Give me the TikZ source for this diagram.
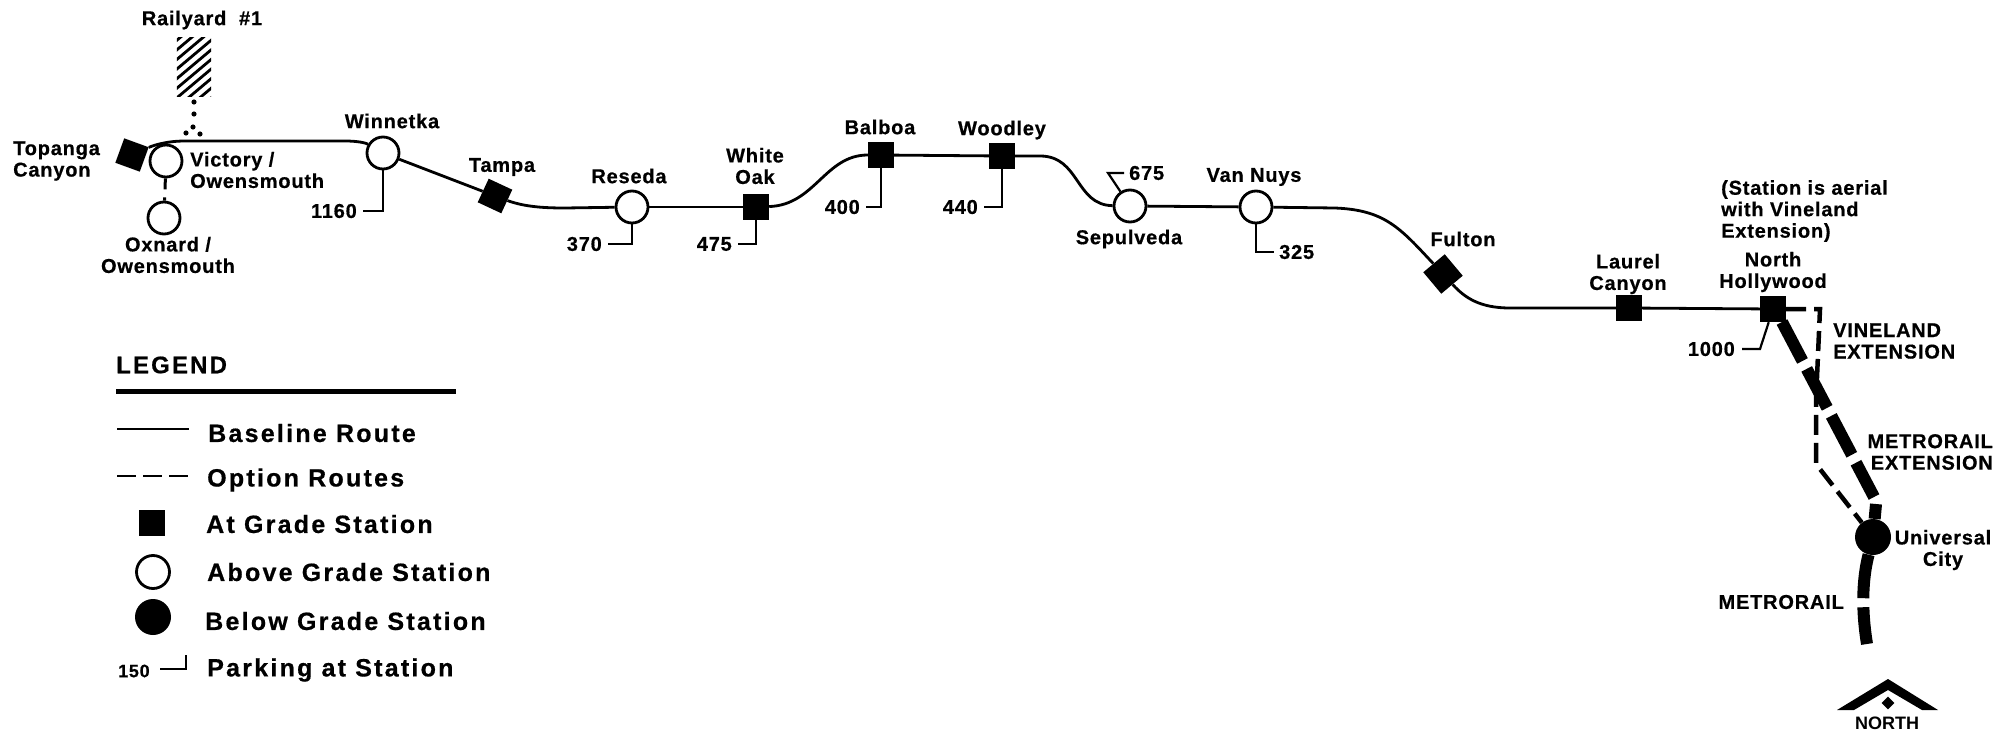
\documentclass[tikz,border=0pt]{standalone}
\usepackage{fontspec}
\setmainfont{Liberation Sans}[BoldFont=* Bold]
\newfontfamily\lblfont{Liberation Sans Bold}[LetterSpace=4,FakeBold=0.6]
\newfontfamily\legfont{Liberation Sans Bold}[LetterSpace=9,FakeBold=0.6]
\begin{document}
\begin{tikzpicture}[x=1pt,y=-1pt,
  lbl/.style={font=\lblfont\fontsize{20}{21.5}\selectfont,inner sep=0pt,align=center},
  lbll/.style={lbl,align=left},
  leg/.style={font=\legfont\fontsize{25}{27}\selectfont,inner sep=0pt,anchor=west},
  grade/.style={fill=black,draw=none,minimum size=26pt,inner sep=0pt,rectangle},
  above/.style={circle,draw=black,line width=2.8pt,fill=white,minimum size=32pt,inner sep=0pt},
  below/.style={circle,fill=black,minimum size=36pt,inner sep=0pt},
  route/.style={line width=2.8pt},
  park/.style={line width=2.2pt},
  option/.style={line width=4.5pt,dash pattern=on 20pt off 8pt},
  metro/.style={line width=12pt,dash pattern=on 44pt off 9pt},
  pt/.style={inner sep=0pt,minimum size=0pt}]
\useasboundingbox (0,0) rectangle (2005,733);
% stations
\node[grade,rotate=-20] (topanga) at (132,155) {};
\node[above] (victory) at (166,161) {};
\node[above] (oxnard) at (164,218) {};
\node[above] (winnetka) at (383,153) {};
\node[grade,rotate=-25] (tampa) at (495,196) {};
\node[above] (reseda) at (632,207) {};
\node[grade] (whiteoak) at (756,207) {};
\node[grade] (balboa) at (881,155) {};
\node[grade] (woodley) at (1002,156) {};
\node[above] (sepulveda) at (1130,206) {};
\node[above] (vannuys) at (1256,207) {};
\node[grade,rotate=-50,minimum size=28pt] (fulton) at (1443,274) {};
\node[grade] (laurel) at (1629,308) {};
\node[below] (universal) at (1873,537) {};
% option and metrorail lines
\coordinate (vcorner) at (1820,309);
\coordinate (vbend) at (1816,464);
\coordinate (mid) at (1816,400);
\coordinate (metroend) at (1867,644);
\coordinate (metrotop) at (1874,497);
\draw[option] (1786,309) -- (vcorner) -- (mid) -- (vbend) -- (universal);
\draw[metro] (1782,322) -- (metrotop);
\draw[line width=12pt] (1876,504) -- (universal);
\draw[metro] (universal) .. controls (1866,565) and (1859,595) .. (metroend);
\node[grade] (nohol) at (1773,309) {};
\draw[route] (laurel) -- (nohol);
% baseline route
\draw[route] (topanga) .. controls (152,146) and (165,141) .. (185,141) -- (345,141) .. controls (358,141) and (366,143) .. (winnetka);
\draw[route] (winnetka) -- (tampa);
\draw[route] (tampa) .. controls (525,207) and (545,208) .. (565,208) -- (reseda);
\draw[route] (reseda) -- (whiteoak);
\draw[route] (whiteoak) .. controls (815,205) and (825,155) .. (balboa);
\draw[route] (balboa) -- (woodley);
\draw[route] (woodley) -- (1040,156) .. controls (1080,156) and (1075,205) .. (sepulveda);
\draw[route] (sepulveda) -- (vannuys);
\draw[route] (vannuys) -- (1335,208) .. controls (1385,210) and (1400,228) .. (fulton);
\draw[route] (fulton) .. controls (1465,298) and (1480,308) .. (1510,308) -- (laurel);
\draw[line width=3pt,dash pattern=on 11pt off 8pt] (victory) -- (oxnard);
% railyard
\node[inner sep=0pt,minimum width=34pt,minimum height=59pt] (railyard) at (194,67) {};
\begin{scope}
\clip (railyard.north west) rectangle (railyard.south east);
\foreach \k in {0,...,11} \draw[line width=2.8pt] (170,{46+\k*9.6}) -- (220,{46+\k*9.6-42});
\end{scope}
\foreach \p in {(194,102),(194,114),(193,127),(186,133),(200,134)} \fill \p circle (2.6);
% labels
\node[lbl] (lrail) at (202,20) {Railyard\ \ \#1};
\node[lbll,anchor=west] (ltop) at (13,161) {Topanga\\Canyon};
\node[lbll,anchor=west] (lvic) at (190,170) {Victory /\\Owensmouth};
\node[lbl] (loxn) at (168,255) {Oxnard /\\Owensmouth};
\node[lbl] (lwin) at (392,121) {Winnetka};
\node[lbl] (ltam) at (502,167) {Tampa};
\node[lbl] (lres) at (629,176) {Reseda};
\node[lbl] (lwhi) at (755,166) {White\\Oak};
\node[lbl] (lbal) at (880,127) {Balboa};
\node[lbl] (lwoo) at (1002,130) {Woodley};
\node[lbl] (lsep) at (1129,239) {Sepulveda};
\node[lbl] (lvan) at (1254,177) {Van Nuys};
\node[lbl] (lful) at (1463,239) {Fulton};
\node[lbl] (llau) at (1628,274) {Laurel\\Canyon};
\node[lbl] (lnor) at (1773,272) {North\\Hollywood};
\node[lbll,anchor=west] (lsta) at (1721,211) {(Station is aerial\\with Vineland\\Extension)};
\node[lbll,anchor=west] (lvin) at (1833,341) {VINELAND\\EXTENSION};
\node[lbl,align=right,anchor=east] (lmex) at (1993,452) {METRORAIL\\EXTENSION};
\node[lbl] (luni) at (1943,550) {Universal\\City};
\node[lbl,anchor=east] (lmet) at (1844,602) {METRORAIL};
% parking
\node[lbl,anchor=east] (p1160) at (357,211) {1160};
\node[lbl,anchor=east] (p370) at (602,244) {370};
\node[lbl,anchor=east] (p475) at (732,244) {475};
\node[lbl,anchor=east] (p400) at (860,207) {400};
\node[lbl,anchor=east] (p440) at (978,207) {440};
\node[lbl,anchor=west] (p675) at (1129,173) {675};
\node[lbl,anchor=west] (p325) at (1279,252) {325};
\node[lbl,anchor=east] (p1000) at (1735,349) {1000};
\draw[park,shorten >=6pt] (winnetka) |- (p1160.east);
\draw[park,shorten >=6pt] (reseda) |- (p370.east);
\draw[park,shorten >=6pt] (whiteoak) |- (p475.east);
\draw[park,shorten >=6pt] (balboa) |- (p400.east);
\draw[park,shorten >=6pt] (woodley) |- (p440.east);
\draw[park,shorten >=5pt] (vannuys) |- (p325.west);
\draw[park] (sepulveda) -- (1108,173) -- (1124,173);
\draw[park] (nohol) -- (1760,349) -- (1742,349);
% legend
\node[font=\legfont\fontsize{24}{26}\selectfont,inner sep=0pt,anchor=west] (lleg) at (116,365) {LEGEND};
\coordinate (barl) at (116,391);
\coordinate (barr) at (456,391);
\draw[line width=5pt] (barl) -- (barr);
\coordinate (l1a) at (117,429);
\coordinate (l1b) at (189,429);
\draw[route] (l1a) -- (l1b);
\coordinate (l2a) at (117,476);
\coordinate (l2b) at (189,476);
\draw[line width=2.8pt,dash pattern=on 19pt off 7pt] (l2a) -- (l2b);
\node[leg] (t1) at (208,433) {Baseline Route};
\node[leg] (t2) at (207,480) {Option Routes};
\node[grade] (s3) at (152,523) {};
\node[leg] (t3) at (206,524) {At Grade Station};
\node[above,minimum size=33pt] (s4) at (153,572) {};
\node[leg] (t4) at (207,572) {Above Grade Station};
\node[below] (s5) at (153,617) {};
\node[leg] (t5) at (205,621) {Below Grade Station};
\node[font=\lblfont\fontsize{18}{20}\selectfont,inner sep=0pt,anchor=west] (p150) at (118,671) {150};
\coordinate (ptop) at (186,655);
\draw[park] (ptop) |- (160,669);
\node[leg] (t6) at (207,670) {Parking at Station};
% north arrow
\fill (1888,679) -- (1938,710) -- (1922,710) -- (1888,690) -- (1854,710) -- (1837,710) -- cycle;
\node[fill=black,rotate=45,minimum size=9pt,inner sep=0pt] (ndia) at (1888,703) {};
\node[font=\bfseries\fontsize{18}{19}\selectfont,inner sep=0pt] (lnorth) at (1887,723) {NORTH};
\end{tikzpicture}
\end{document}
